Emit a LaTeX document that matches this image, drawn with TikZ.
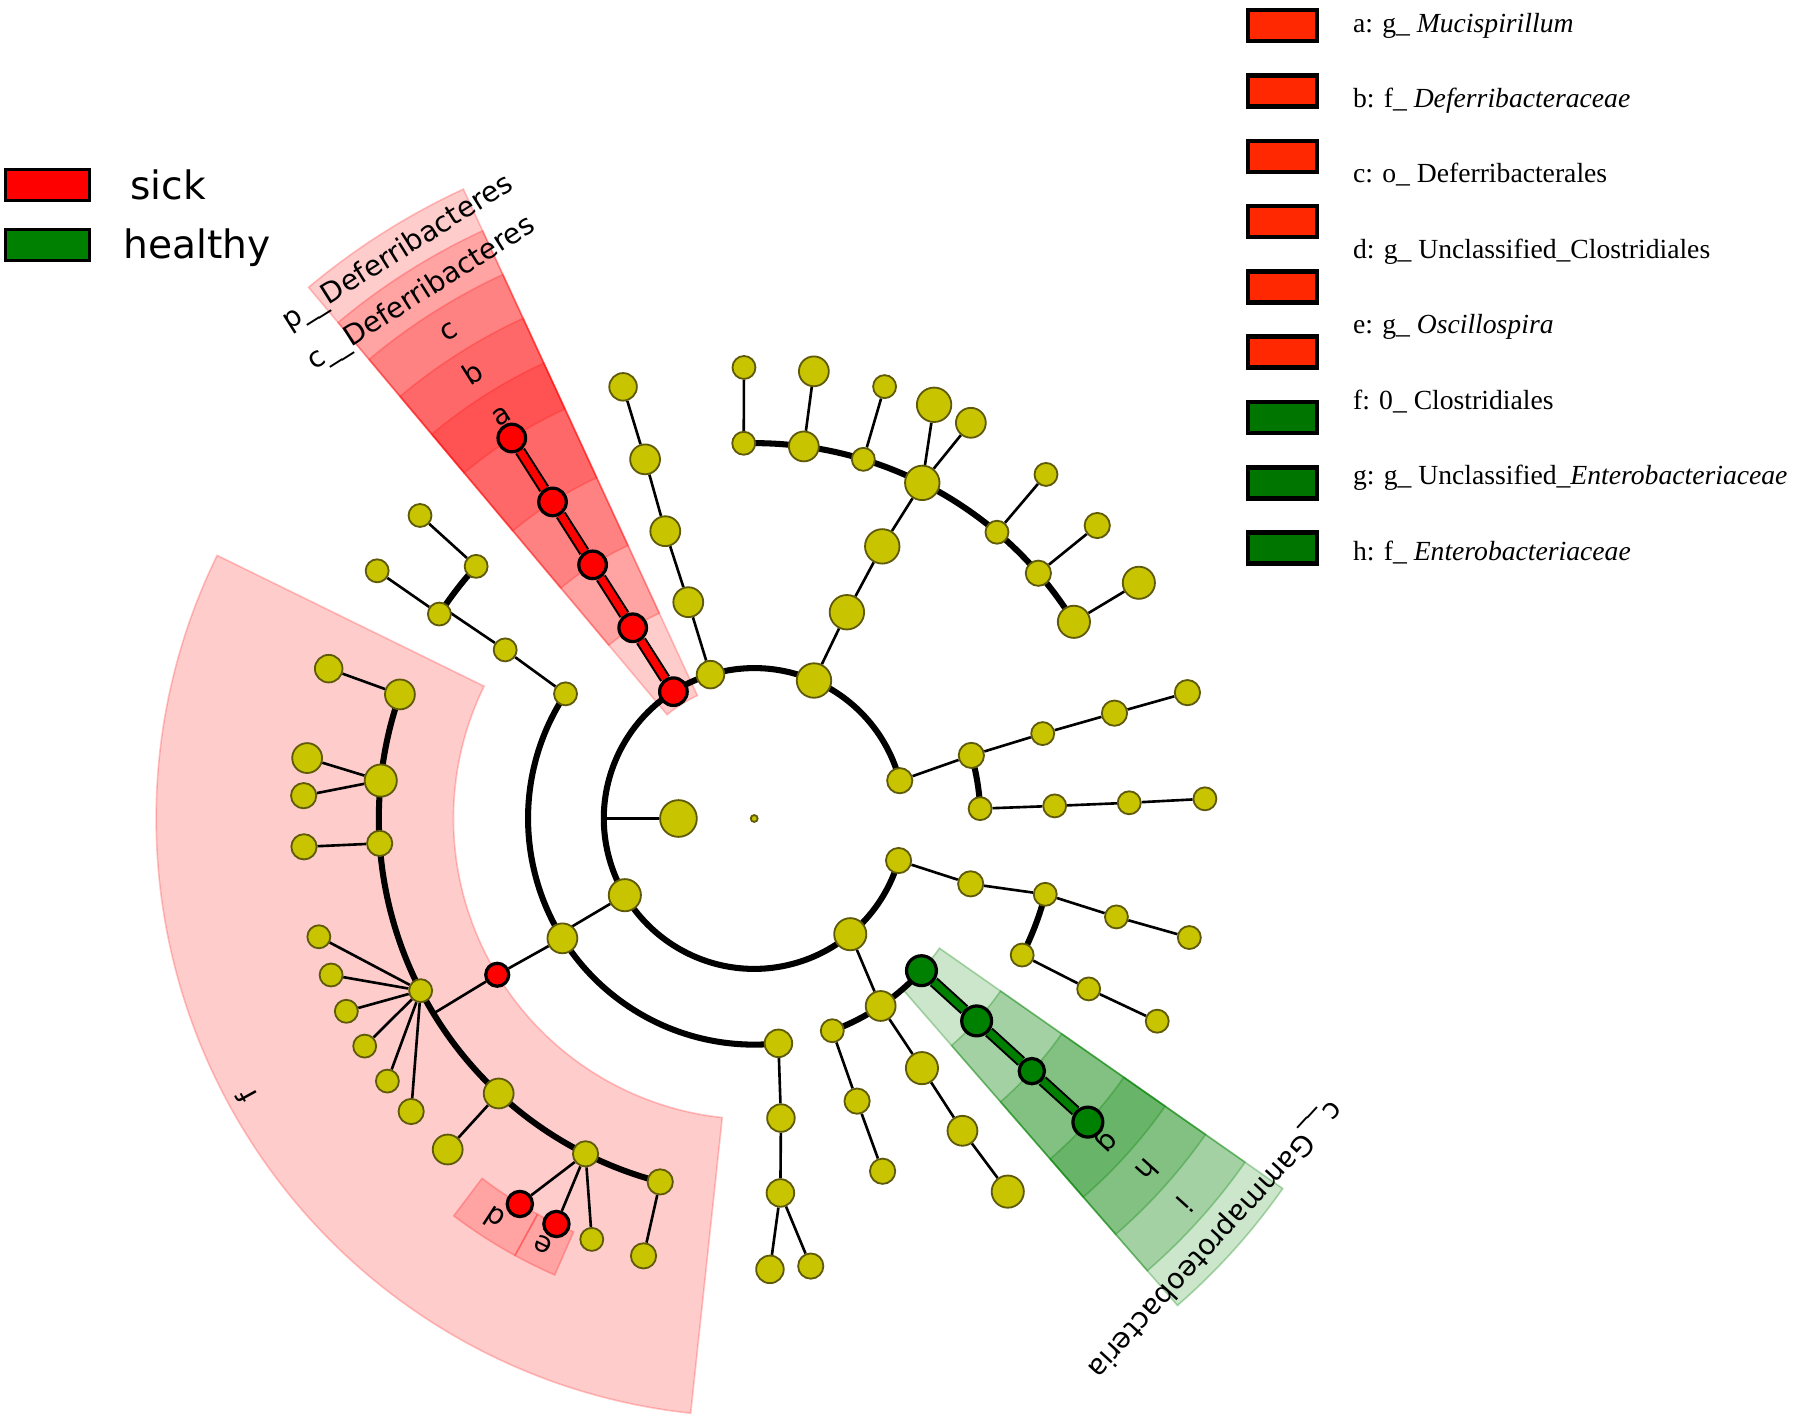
\documentclass[tikz,border=0pt]{standalone}
\usepackage{fontspec}
\setmainfont{Liberation Serif}
\newfontfamily\dejavu{DejaVu Sans}
\definecolor{yfill}{RGB}{200,196,0}
\definecolor{ybord}{RGB}{95,90,10}
\definecolor{gnode}{RGB}{0,128,0}
\definecolor{legred}{RGB}{255,40,0}
\definecolor{leggreen}{RGB}{0,118,0}
\pgfdeclarelayer{wedge}
\pgfdeclarelayer{edges}
\pgfsetlayers{wedge,edges,main}
\tikzset{
  yn/.style={circle, draw=ybord, fill=yfill, line width=0.45pt, inner sep=0pt, minimum size=#1},
  rn/.style={circle, draw=black, fill=red, line width=0.8pt, inner sep=0pt, minimum size=#1},
  gn/.style={circle, draw=black, fill=gnode, line width=0.8pt, inner sep=0pt, minimum size=#1},
  thinedge/.style={draw=black, line width=0.65pt},
  thickarc/.style={draw=black, line width=1.5pt},
  lab/.style={font=\dejavu\fontsize{7}{8}\selectfont, inner sep=0pt},
  redsec/.style={fill=red, fill opacity=0.2, draw=red, draw opacity=0.22, line width=0.4pt},
  greensec/.style={fill=gnode, fill opacity=0.2, draw=gnode, draw opacity=0.3, line width=0.4pt},
  lbox/.style={draw=black, line width=0.7pt, minimum width=0.73cm, minimum height=0.27cm, inner sep=0pt},
  rbox/.style={draw=black, line width=1.1pt, minimum width=0.6cm, minimum height=0.27cm, inner sep=0pt},
  ltext/.style={anchor=base west, inner sep=0pt, font=\dejavu\fontsize{9.7}{11}\selectfont},
  rtext/.style={anchor=base west, inner sep=0pt, font=\fontsize{6.85}{8}\selectfont},
}
\newcommand\annsec[5]{%
  \path[#5] (#1:#3) -- (#1:#4) arc[start angle=#1, end angle=#2, radius=#4*0.01cm] -- (#2:#3) arc[start angle=#2, end angle=#1, radius=#3*0.01cm] -- cycle;}
\begin{document}
\begin{tikzpicture}[x=0.01cm, y=0.01cm]
\path[use as bounding box] (0,0) rectangle (1568,-1239);

\begin{scope}[shift={(657,-713)}]
% ---------- highlighted sectors ----------
\begin{pgfonlayer}{wedge}
 \annsec{114.8}{130}{118}{604}{redsec}
 \annsec{114.8}{130}{197}{564}{redsec}
 \annsec{114.8}{130}{262}{522}{redsec}
 \annsec{114.8}{130}{327}{480}{redsec}
 \annsec{114.8}{130}{393}{437}{redsec}
 \annsec{-49}{-35}{197}{562}{greensec}
 \annsec{-49}{-35}{262}{522}{greensec}
 \annsec{-49}{-35}{327}{480}{greensec}
 \annsec{-49}{-35}{393}{437}{greensec}
 \annsec{153.9}{263.9}{262}{521}{redsec}
 \annsec{232.9}{241.3}{393}{434}{redsec}
 \annsec{241.3}{246.4}{393}{434}{redsec}
\end{pgfonlayer}

% ---------- labels ----------
\node[lab, rotate=32.1] (la) at (122.1:414) {a};
\node[lab, rotate=32.3] (lb) at (122.3:459) {b};
\node[lab, rotate=32] (lc) at (122.1:500) {c};
\node[lab, rotate=32.4] (lcdef) at (122.4:541) {c\_\_Deferribacteres};
\node[lab, rotate=32.2] (lpdef) at (122.2:582) {p\_\_Deferribacteres};
\node[lab, rotate=-132.5] (lg) at (-42.5:415) {g};
\node[lab, rotate=-131.8] (lh) at (-41.8:460) {h};
\node[lab, rotate=-131.9] (li) at (-41.9:504) {i};
\node[lab, rotate=-132.4] (lgam) at (-42.4:543) {c\_\_Gammaproteobacteria};
\node[lab, rotate=118.7] (lf) at (208.7:504) {f};
\node[lab, rotate=147] (ld) at (237:415) {d};
\node[lab, rotate=153.7] (le) at (243.7:414) {e};

% ---------- nodes: level 1 ----------
\node[yn=0.6mm] (root) at (0,0) {};
\node[yn=2.2mm] (r1a) at (14.57:131) {};
\node[yn=3mm] (r1b) at (66.57:131) {};
\node[yn=2.4mm] (r1c) at (106.9:131) {};
\node[rn=2.4mm] (r1r) at (122.5:131) {};
\node[yn=2.8mm] (r1d) at (210.66:131) {};
\node[yn=2.8mm] (r1p) at (-50.3:131) {};
\node[yn=2.2mm] (r1f) at (-16.24:131) {};
\coordinate (r1l) at (180:131);
\node[yn=3.2mm] (cbig) at (180:66) {};
% level 2
\node[yn=2mm] (l2a) at (146.55:197) {};
\node[yn=2.6mm] (l2b) at (212:197) {};
\node[yn=2.4mm] (l2c) at (276.15:197) {};
\node[yn=3mm] (l2d) at (65.8:197) {};
\node[yn=2.6mm] (l2e) at (106.95:197) {};
\node[rn=2.4mm] (l2r) at (122.5:197) {};
\node[yn=2.2mm] (l2f) at (16.2:197) {};
\node[yn=2mm] (l2g) at (2.5:197) {};
\node[yn=2.2mm] (l2h) at (-16.8:197) {};
\node[yn=2.6mm] (l2i) at (-56:197) {};
\node[gn=2.6mm] (l2gr) at (-42.3:197) {};
\node[yn=2mm] (l2j) at (-69.8:197) {};
\coordinate (l2x) at (210.66:197);
% level 3
\node[yn=3mm] (l3a) at (64.8:262) {};
\node[yn=2.6mm] (l3b) at (107.2:262) {};
\node[rn=2.4mm] (l3r) at (122.5:262) {};
\node[yn=2mm] (l3c) at (145.9:262) {};
\node[rn=2mm] (l3f) at (211.3:262) {};
\node[yn=2.4mm] (l3d) at (275.1:262) {};
\node[yn=2.2mm] (l3e) at (-70:262) {};
\node[yn=2.8mm] (l3g) at (-56.1:262) {};
\node[gn=2.6mm] (l3gr) at (-42.3:262) {};
\node[yn=2mm] (l3h) at (-14.6:262) {};
\node[yn=2mm] (l3i) at (-27:262) {};
\node[yn=2mm] (l3j) at (16.4:262) {};
\node[yn=2mm] (l3k) at (2.4:262) {};
\coordinate (c3x) at (145.9:327);
\coordinate (cfx) at (211.3:327);
% level 4
\node[yn=2mm] (t1) at (91.6:327) {};
\node[yn=2.6mm] (t2) at (82.4:327) {};
\node[yn=2mm] (t3) at (73.1:327) {};
\node[yn=3mm] (t4) at (63.4:327) {};
\node[yn=2mm] (t5) at (49.7:327) {};
\node[yn=2.2mm] (t6) at (40.8:327) {};
\node[yn=2.8mm] (t7) at (31.6:327) {};
\node[yn=2.6mm] (l4b) at (106.9:327) {};
\node[rn=2.4mm] (l4r) at (122.5:327) {};
\node[yn=2mm] (s1) at (147:327) {};
\node[yn=2mm] (s2) at (137.8:327) {};
\node[yn=2.6mm] (f1) at (160.7:327) {};
\node[yn=2.8mm] (f2) at (174.2:327) {};
\node[yn=2.2mm] (f3) at (183.8:327) {};
\node[yn=2mm] (f4) at (207.3:327) {};
\node[yn=2.6mm] (f5) at (227.1:327) {};
\node[yn=2.2mm] (f6) at (243.3:327) {};
\node[yn=2.2mm] (f7) at (255.5:327) {};
\node[yn=2.4mm] (l4d) at (274:327) {};
\node[yn=2.2mm] (l4e) at (-70:327) {};
\node[yn=2.6mm] (l4g) at (-56.3:327) {};
\node[gn=2.2mm] (l4gr) at (-42.3:327) {};
\node[yn=2mm] (l4i) at (-27:327) {};
\node[yn=2mm] (l4h) at (-15.2:327) {};
\node[yn=2.2mm] (l4j) at (16.3:327) {};
\node[yn=2mm] (l4k) at (2.4:327) {};
% level 5
\node[yn=2mm] (t1a) at (91.3:393) {};
\node[yn=2.6mm] (t2a) at (82.4:393) {};
\node[yn=2mm] (t3a) at (73.2:393) {};
\node[yn=3mm] (t4a) at (66.5:393) {};
\node[yn=2.6mm] (t4b) at (61.3:393) {};
\node[yn=2mm] (t5a) at (49.7:393) {};
\node[yn=2.2mm] (t6a) at (40.5:393) {};
\node[yn=2.8mm] (t7a) at (31.5:393) {};
\node[yn=2.4mm] (l5b) at (106.9:393) {};
\node[rn=2.4mm] (l5r) at (122.5:393) {};
\node[yn=2mm] (s1a) at (146.7:393) {};
\node[yn=2mm] (s2a) at (137.8:393) {};
\node[yn=2.4mm] (f1a) at (160.6:393) {};
\node[yn=2.6mm] (f2a) at (172.3:393) {};
\node[yn=2.2mm] (f2b) at (177.1:393) {};
\node[yn=2.2mm] (f3a) at (183.6:393) {};
\node[yn=2mm] (f4a) at (195.2:393) {};
\node[yn=2mm] (f4b) at (200.3:393) {};
\node[yn=2mm] (f4c) at (205.3:393) {};
\node[yn=2mm] (f4d) at (210.3:393) {};
\node[yn=2mm] (f4e) at (215.6:393) {};
\node[yn=2.2mm] (f4f) at (220.5:393) {};
\node[yn=2.6mm] (f5a) at (227.2:393) {};
\node[rn=2.2mm] (f6d) at (238.7:393) {};
\node[rn=2.2mm] (f6e) at (244:393) {};
\node[yn=2mm] (f6a) at (248.9:393) {};
\node[yn=2.2mm] (f7a) at (255.8:393) {};
\node[yn=2.4mm] (l5d1) at (272:393) {};
\node[yn=2.2mm] (l5d2) at (277.2:393) {};
\node[yn=2.8mm] (l5g) at (-55.8:393) {};
\node[gn=2.6mm] (l5gr) at (-42.3:393) {};
\node[yn=2mm] (l5i) at (-26.7:393) {};
\node[yn=2mm] (l5h) at (-15.3:393) {};
\node[yn=2.2mm] (l5j) at (16.2:393) {};
\node[yn=2mm] (l5k) at (2.5:393) {};

% ---------- edges ----------
\begin{pgfonlayer}{edges}
 \draw[thickarc] (r1a.center) arc[start angle=14.57, end angle=343.76, radius=131*0.01cm];
 \draw[thickarc] (l2a.center) arc[start angle=146.55, end angle=276.15, radius=197*0.01cm];
 \draw[thickarc] (t7.center) arc[start angle=31.6, end angle=91.6, radius=327*0.01cm];
 \draw[thickarc] (s2.center) arc[start angle=137.8, end angle=147, radius=327*0.01cm];
 \draw[thickarc] (f1.center) arc[start angle=160.7, end angle=255.5, radius=327*0.01cm];
 \draw[thickarc] (l2g.center) arc[start angle=2.5, end angle=16.2, radius=197*0.01cm];
 \draw[thickarc] (l3i.center) arc[start angle=-27, end angle=-14.6, radius=262*0.01cm];
 \draw[thickarc] (l2j.center) arc[start angle=-69.8, end angle=-42.3, radius=197*0.01cm];

 \draw[thinedge] (r1l) -- (cbig);
 \draw[thinedge] (r1d) -- (l2x);
 \draw[thinedge] (r1b) -- (l2d) -- (l3a) -- (t4);
 \draw[thinedge] (t1) -- (t1a);
 \draw[thinedge] (t2) -- (t2a);
 \draw[thinedge] (t3) -- (t3a);
 \draw[thinedge] (t4) -- (t4a);
 \draw[thinedge] (t4) -- (t4b);
 \draw[thinedge] (t5) -- (t5a);
 \draw[thinedge] (t6) -- (t6a);
 \draw[thinedge] (t7) -- (t7a);
 \draw[thinedge] (r1c) -- (l2e) -- (l3b) -- (l4b) -- (l5b);
 \draw[thinedge] (l2a) -- (l3c) -- (c3x);
 \draw[thinedge] (s1) -- (s1a);
 \draw[thinedge] (s2) -- (s2a);
 \draw[thinedge] (l2b) -- (l3f) -- (cfx);
 \draw[thinedge] (f1) -- (f1a);
 \draw[thinedge] (f2) -- (f2a);
 \draw[thinedge] (f2) -- (f2b);
 \draw[thinedge] (f3) -- (f3a);
 \foreach \q in {f4a,f4b,f4c,f4d,f4e,f4f} \draw[thinedge] (f4) -- (\q);
 \draw[thinedge] (f5) -- (f5a);
 \draw[thinedge] (f6) -- (f6d);
 \draw[thinedge] (f6) -- (f6e);
 \draw[thinedge] (f6) -- (f6a);
 \draw[thinedge] (f7) -- (f7a);
 \draw[thinedge] (l2c) -- (l3d) -- (l4d) -- (l5d1);
 \draw[thinedge] (l4d) -- (l5d2);
 \draw[thinedge] (r1a) -- (l2f);
 \draw[thinedge] (l2f) -- (l3j) -- (l4j) -- (l5j);
 \draw[thinedge] (l2g) -- (l3k) -- (l4k) -- (l5k);
 \draw[thinedge] (r1f) -- (l2h) -- (l3h) -- (l4h) -- (l5h);
 \draw[thinedge] (l3i) -- (l4i) -- (l5i);
 \draw[thinedge] (r1p) -- (l2i) -- (l3g) -- (l4g) -- (l5g);
 \draw[thinedge] (l2j) -- (l3e) -- (l4e);
 \draw[line width=2.8pt, black] (r1r) -- (l2r) -- (l3r) -- (l4r) -- (l5r);
 \draw[line width=1.8pt, red] (r1r) -- (l2r) -- (l3r) -- (l4r) -- (l5r);
 \draw[line width=2.8pt, black] (l2gr) -- (l3gr) -- (l4gr) -- (l5gr);
 \draw[line width=1.8pt, gnode] (l2gr) -- (l3gr) -- (l4gr) -- (l5gr);
\end{pgfonlayer}
\end{scope}

% ---------- left legend ----------
\node[lbox, fill=red] (ksick) at (41.5,-161.5) {};
\node[lbox, fill=gnode] (khealthy) at (41.5,-213.5) {};
\node[ltext] (tsick) at (113,-174) {sick};
\node[ltext] (thealthy) at (107,-225) {healthy};

% ---------- right legend ----------
\node[rbox, fill=legred] (ba) at (1117,-22.3) {};
\node[rbox, fill=legred] (bb) at (1117,-79.2) {};
\node[rbox, fill=legred] (bc) at (1117,-136.1) {};
\node[rbox, fill=legred] (bd) at (1117,-193) {};
\node[rbox, fill=legred] (be) at (1117,-249.9) {};
\node[rbox, fill=legred] (bf) at (1117,-306.8) {};
\node[rbox, fill=leggreen] (bg) at (1117,-363.7) {};
\node[rbox, fill=leggreen] (bh) at (1117,-420.6) {};
\node[rbox, fill=leggreen] (bi) at (1117,-477.5) {};
\node[rtext] (ta) at (1178,-28) {a: g\_ \textit{Mucispirillum}};
\node[rtext] (tb) at (1178,-93.7) {b: f\_ \textit{Deferribacteraceae}};
\node[rtext] (tc) at (1178,-159.4) {c: o\_ Deferribacterales};
\node[rtext] (td) at (1178,-225.1) {d: g\_ Unclassified\_Clostridiales};
\node[rtext] (te) at (1178,-290.8) {e: g\_ \textit{Oscillospira}};
\node[rtext] (tf) at (1178,-356.5) {f: 0\_ Clostridiales};
\node[rtext] (tg) at (1178,-422.2) {g: g\_ Unclassified\_\textit{Enterobacteriaceae}};
\node[rtext] (th) at (1178,-487.9) {h: f\_ \textit{Enterobacteriaceae}};
\end{tikzpicture}
\end{document}
